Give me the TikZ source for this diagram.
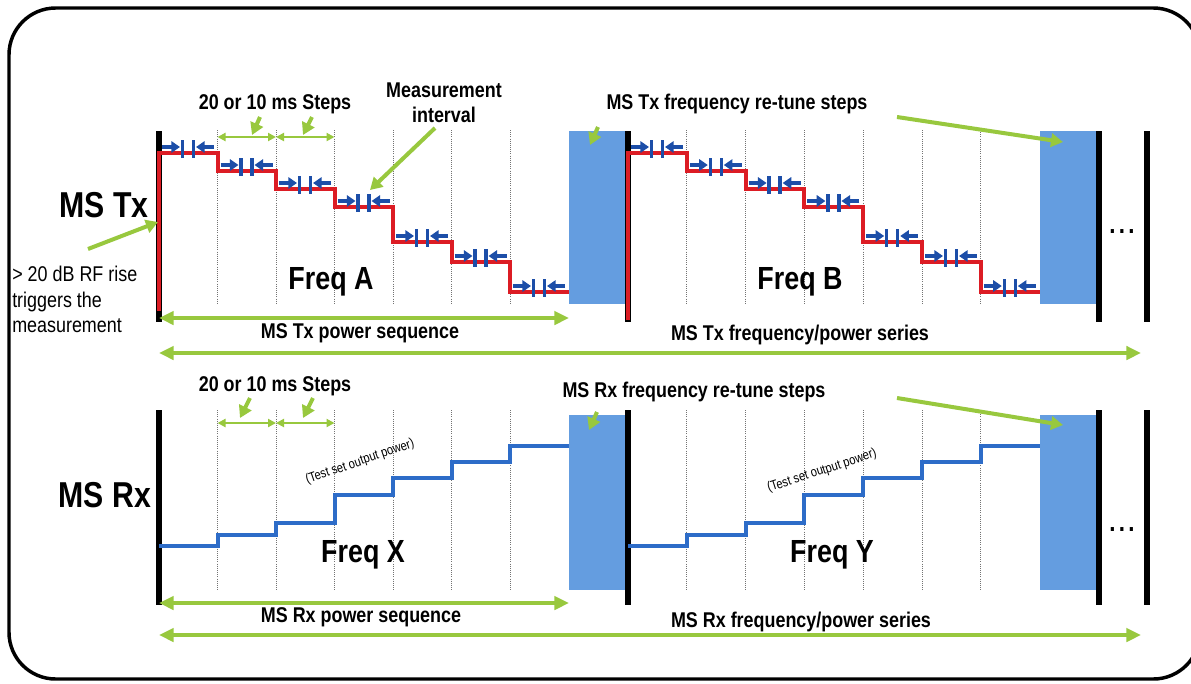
\documentclass[tikz,border=0pt]{standalone}
\usepackage{fontspec}
\setmainfont{Liberation Sans}[FakeStretch=0.84]
\usetikzlibrary{arrows.meta}
\definecolor{tred}{RGB}{220,28,36}
\definecolor{boxblue}{RGB}{100,157,224}
\definecolor{rxblue}{RGB}{45,108,200}
\definecolor{mkblue}{RGB}{28,78,168}
\definecolor{lgreen}{RGB}{152,200,62}
\newcommand\mkpair[2]{%
  \draw[mkarrow] (#1+3,#2-6) -- (#1+21,#2-6);
  \draw[mktick] (#1+23.5,#2-13) -- (#1+23.5,#2+5);
  \draw[mktick] (#1+34.5,#2-13) -- (#1+34.5,#2+5);
  \draw[mkarrow] (#1+55,#2-6) -- (#1+37,#2-6);}
\begin{document}
\begin{tikzpicture}[x=0.75pt,y=-0.75pt,
  bar/.style={line width=3.8pt,black},
  dotv/.style={densely dotted,black!55,line width=0.6pt},
  rbox/.style={fill=boxblue,draw=none},
  txline/.style={tred,line width=3pt},
  rxline/.style={rxblue,line width=3pt},
  mkarrow/.style={mkblue,line width=2.6pt,-{Triangle[length=6.5pt,width=8.5pt]}},
  mktick/.style={mkblue,line width=2.6pt},
  garrow/.style={lgreen,line width=3pt,-{Triangle[length=9pt,width=10pt]}},
  gdouble/.style={lgreen,line width=2.6pt,{Triangle[length=11pt,width=10pt]}-{Triangle[length=11pt,width=10pt]}},
  gsmall/.style={lgreen,line width=1.5pt,{Triangle[length=6pt,width=6pt]}-{Triangle[length=6pt,width=6pt]}},
  big/.style={font=\fontsize{27}{30}\selectfont\bfseries},
  freq/.style={font=\fontsize{24}{28}\selectfont\bfseries},
  lab/.style={font=\fontsize{16}{19}\selectfont\bfseries},
  note/.style={font=\fontsize{16}{19}\selectfont,align=left},
  tiny/.style={font=\fontsize{10}{12}\selectfont},
  dots/.style={font=\fontsize{20}{22}\selectfont\bfseries}]
\useasboundingbox (0,0) rectangle (1191,683);
\fill[white] (0,0) rectangle (1191,683);
\draw[line width=2.6pt,rounded corners=35] (9,8) rectangle (1200,679);

% ---------------- Tx section ----------------
\foreach \x in {217.5,276,334.5,393,451.5,510,686.8,745.6,804.4,863.2,922,980.8}
  \draw[dotv] (\x,130) -- (\x,303);
\fill[rbox] (569,131) rectangle (627,304);
\fill[rbox] (1040,131) rectangle (1096,304);
\foreach \x in {159,628,1099,1147}
  \draw[bar] (\x,131) -- (\x,322);
\draw[txline] (159,311) -- (159,153) -- (217.5,153) -- (217.5,171) -- (276,171) -- (276,189)
  -- (334.5,189) -- (334.5,207) -- (393,207) -- (393,242) -- (451.5,242) -- (451.5,262)
  -- (510,262) -- (510,292) -- (568.5,292);
\draw[txline] (628,320) -- (628,153) -- (686.8,153) -- (686.8,171) -- (745.6,171) -- (745.6,189)
  -- (804.4,189) -- (804.4,207) -- (863.2,207) -- (863.2,242) -- (922,242) -- (922,262)
  -- (980.8,262) -- (980.8,292) -- (1039.6,292);
\foreach \x/\y in {159/153,217.5/171,276/189,334.5/207,393/242,451.5/262,510/292,
  628/153,686.8/171,745.6/189,804.4/207,863.2/242,922/262,980.8/292}
  {\mkpair{\x}{\y}}
\node[dots] (dotsT) at (1122,232) {.\hspace{2.5pt}.\hspace{2.5pt}.};

\node[big] (mstx) at (104,205) {MS Tx};
\node[note,anchor=north west,inner sep=0pt] (rise) at (12,266) {> 20 dB RF rise\\triggers the\\measurement};
\coordinate (riseTail) at (88,249);
\coordinate (riseTip) at (158,222);
\draw[garrow] (riseTail) -- (riseTip);

\node[lab] (stepT) at (275,104) {20 or 10 ms Steps};
\coordinate (sT1) at (217.5,137); \coordinate (sT2) at (276,137); \coordinate (sT3) at (334.5,137);
\draw[gsmall] (sT1) -- (sT2);
\draw[gsmall] (sT2) -- (sT3);
\draw[garrow] (260,117) -- (252,135);
\draw[garrow] (312,117) -- (303,135);

\node[lab,align=center] (meas) at (444,103) {Measurement\\interval};
\coordinate (measTip) at (370,190);
\draw[garrow] (435,128) -- (measTip);

\node[lab] (retT) at (737,104) {MS Tx frequency re-tune steps};
\draw[garrow] (598,127) -- (590,145);
\draw[garrow] (897,117) -- (1063,142);

\node[freq] (fA) at (331,282) {Freq A};
\node[freq] (fB) at (800,282) {Freq B};

\coordinate (psT1) at (159,318); \coordinate (psT2) at (569,318);
\draw[gdouble] (psT1) -- (psT2);
\node[lab] (psTl) at (360,333) {MS Tx power sequence};
\coordinate (fsT1) at (159,353); \coordinate (fsT2) at (1141,353);
\draw[gdouble] (fsT1) -- (fsT2);
\node[lab] (fsTl) at (800,335) {MS Tx frequency/power series};

% ---------------- Rx section ----------------
\foreach \x in {217.5,276,334.5,393,451.5,510,686.8,745.6,804.4,863.2,922,980.8}
  \draw[dotv] (\x,410) -- (\x,590);
\fill[rbox] (569,415) rectangle (627,590);
\fill[rbox] (1040,415) rectangle (1096,590);
\foreach \x in {159,628,1099,1147}
  \draw[bar] (\x,410) -- (\x,605);
\draw[rxline] (159,546) -- (217.5,546) -- (217.5,535) -- (276,535) -- (276,523) -- (334.5,523)
  -- (334.5,495) -- (393,495) -- (393,478) -- (451.5,478) -- (451.5,462) -- (510,462)
  -- (510,446) -- (568.5,446);
\draw[rxline] (628,546) -- (686.8,546) -- (686.8,535) -- (745.6,535) -- (745.6,523) -- (804.4,523)
  -- (804.4,495) -- (863.2,495) -- (863.2,478) -- (922,478) -- (922,462) -- (980.8,462)
  -- (980.8,446) -- (1039.6,446);
\node[dots] (dotsR) at (1122,529) {.\hspace{2.5pt}.\hspace{2.5pt}.};

\node[big] (msrx) at (105,495) {MS Rx};

\node[lab] (stepR) at (275,386) {20 or 10 ms Steps};
\coordinate (sR1) at (217.5,423); \coordinate (sR2) at (276,423); \coordinate (sR3) at (334.5,423);
\draw[gsmall] (sR1) -- (sR2);
\draw[gsmall] (sR2) -- (sR3);
\draw[garrow] (250,398) -- (240,418);
\draw[garrow] (313,398) -- (303,418);

\node[tiny,rotate=19] (tsp1) at (360,462) {(Test set output power)};
\node[tiny,rotate=18] (tsp2) at (822,471) {(Test set output power)};

\node[lab] (retR) at (694,392) {MS Rx frequency re-tune steps};
\draw[garrow] (597,412) -- (589,430);
\draw[garrow] (897,398) -- (1063,425);

\node[freq] (fX) at (363,555) {Freq X};
\node[freq] (fY) at (832,555) {Freq Y};

\coordinate (psR1) at (159,603); \coordinate (psR2) at (569,603);
\draw[gdouble] (psR1) -- (psR2);
\node[lab] (psRl) at (361,617) {MS Rx power sequence};
\coordinate (fsR1) at (159,635); \coordinate (fsR2) at (1141,635);
\draw[gdouble] (fsR1) -- (fsR2);
\node[lab] (fsRl) at (801,622) {MS Rx frequency/power series};
\end{tikzpicture}
\end{document}
